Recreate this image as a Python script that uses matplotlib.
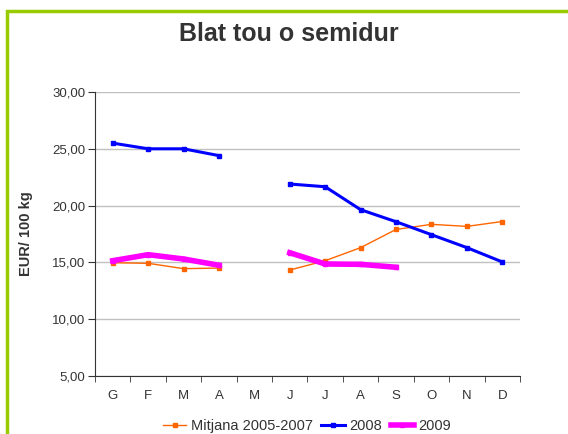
import numpy as np
import matplotlib.pyplot as plt
from matplotlib.patches import Rectangle

plt.rcParams['font.family'] = ['Liberation Sans', 'DejaVu Sans']

# data
months = ['G', 'F', 'M', 'A', 'M', 'J', 'J', 'A', 'S', 'O', 'N', 'D']
mitjana = [14.97, 14.92, 14.45, 14.5, np.nan, 14.33, 15.15, 16.3, 17.9, 18.35, 18.17, 18.6]
y2008 = [25.5, 25.0, 25.0, 24.4, np.nan, 21.9, 21.66, 19.64, 18.58, 17.44, 16.3, 15.04]
y2009 = [15.15, 15.68, 15.3, 14.75, np.nan, 15.85, 14.86, 14.83, 14.57, np.nan, np.nan, np.nan]
yticks = [5, 10, 15, 20, 25, 30]

fig = plt.figure(figsize=(5.68, 4.34), dpi=100)
fig.patches.append(Rectangle((7/568, -0.1), 1.2, 1 - 11/434 + 0.1, transform=fig.transFigure,
                             fill=False, edgecolor='#99CC00', linewidth=2.5, figure=fig))

ax = fig.add_axes([95/568, 1 - 376/434, (520 - 95)/568, (376 - 92)/434])
x = np.arange(len(months))

ax.plot(x, mitjana, color='#FF6600', lw=1, marker='s', ms=2.5, label='Mitjana 2005-2007')
ax.plot(x, y2008, color='#0000FF', lw=2.2, marker='s', ms=2.5, label='2008')
ax.plot(x, y2009, color='#FF00FF', lw=4, marker='s', ms=3.5, label='2009')

ax.set_xlim(-0.5, 11.5)
ax.set_ylim(5, 30)
ax.set_yticks(yticks)
ax.set_yticklabels([f'{v:.2f}'.replace('.', ',') for v in yticks])
ax.set_xticks(x)
ax.set_xticklabels(months)
ax.set_xticks(np.arange(-0.5, 12, 1), minor=True)
ax.tick_params(axis='x', which='major', length=0, pad=10, labelsize=9.5)
ax.tick_params(axis='x', which='minor', length=4, direction='out', color='#333333')
ax.tick_params(axis='y', length=5, direction='out', labelsize=9.5, color='#333333', pad=2)
ax.tick_params(axis='both', labelcolor='#333333')

ax.grid(axis='y', color='#C0C0C0', lw=1)
ax.set_axisbelow(True)
for s in ['top', 'right']:
    ax.spines[s].set_visible(False)
for s in ['left', 'bottom']:
    ax.spines[s].set_color('#333333')

fig.text(26/568, 1 - 234/434, 'EUR/ 100 kg', rotation=90, ha='center', va='center',
         fontsize=10.5, fontweight='bold', color='#333333')

fig.text(289/568, 1 - 34/434, 'Blat tou o semidur', ha='center', va='center',
         fontsize=18, fontweight='bold', color='#333333')

fig.legend(loc='center', bbox_to_anchor=(307/568, 1 - 426/434), ncol=3, frameon=False,
           fontsize=10.5, handlelength=1.6, handletextpad=0.3, columnspacing=0.6,
           labelcolor='#333333')

fig.savefig('out.png', dpi=100)
